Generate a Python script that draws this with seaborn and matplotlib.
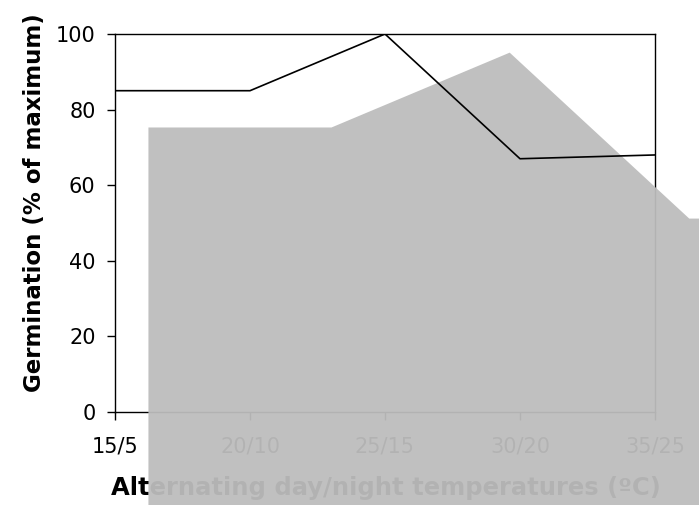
import numpy as np
import pandas as pd
import matplotlib
matplotlib.use("Agg")
import matplotlib.pyplot as plt
import seaborn as sns

# Daten
temperatures = ["15/5", "20/10", "25/15", "30/20", "35/25"]
germination = [85, 85, 100, 67, 68]

# graue Fläche (verdeckt Teile der Abbildung), Position in Kategorie-Einheiten
shade_x = [0.244, 1.6, 2.92, 4.25, 4.4]
shade_top = [75.4, 75.4, 95.2, 51.3, 51.3]
shade_bottom = -27

sns.set_style("white")
plt.rcParams['font.family'] = ['DejaVu Sans']
plt.rcParams['text.color'] = 'black'
plt.rcParams['axes.labelcolor'] = 'black'
plt.rcParams['xtick.color'] = 'black'
plt.rcParams['ytick.color'] = 'black'

df = pd.DataFrame({"pos": np.arange(len(temperatures)), "germ": germination})

fig = plt.figure(figsize=(6.99, 5.05), dpi=100)
ax = fig.add_axes([115 / 699, 1 - 412 / 505, (655 - 115) / 699, (412 - 34) / 505])

sns.lineplot(data=df, x="pos", y="germ", color="black", linewidth=1.2, ax=ax, zorder=3)

ax.fill_between(shade_x, shade_top, shade_bottom, color="#bdbdbd", alpha=0.95,
                linewidth=0, clip_on=False, zorder=2.6)

ax.set_xlim(0, len(temperatures) - 1)
ax.set_ylim(0, 100)
ax.set_xticks(range(len(temperatures)))
ax.set_xticklabels(temperatures)
ax.set_yticks(range(0, 101, 20))
ax.tick_params(axis="both", direction="out", length=6, width=1,
               labelsize=15, bottom=True, left=True)
ax.tick_params(axis="x", pad=12)
ax.tick_params(axis="y", pad=8)

for side in ["top", "right", "left", "bottom"]:
    ax.spines[side].set_color("black")
    ax.spines[side].set_linewidth(1)

ax.set_xlabel("Alternating day/night temperatures (ºC)", fontsize=17.5, fontweight="bold")
ax.set_ylabel("Germination (% of maximum)", fontsize=16.5, fontweight="bold")
ax.xaxis.set_label_coords(0.502, -0.169)
ax.yaxis.set_label_coords(-0.128, 0.553)

fig.savefig("out.png", dpi=100)
